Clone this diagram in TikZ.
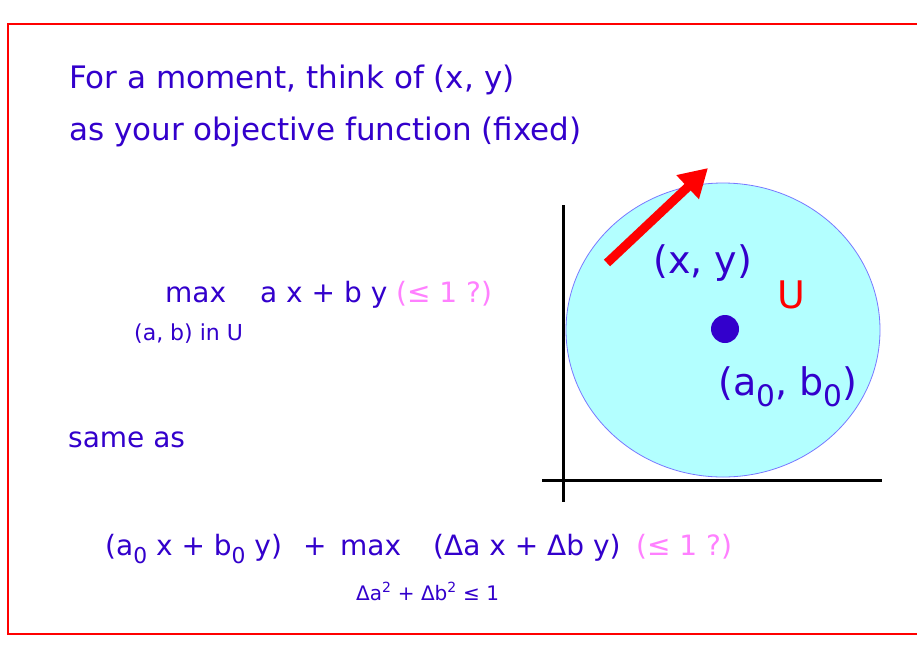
\documentclass[tikz,border=0pt]{standalone}
\usepackage{fontspec}
\usepackage{graphicx}
\setmainfont{DejaVu Sans}
\usetikzlibrary{arrows.meta,shapes.geometric}
\definecolor{txtblue}{RGB}{51,0,204}
\definecolor{txtpink}{RGB}{255,128,255}
\definecolor{ucyan}{RGB}{179,255,255}
\definecolor{ublue}{RGB}{120,120,255}
\newcommand{\sz}[1]{\fontsize{#1}{#1}\selectfont}
\newcommand{\sub}[1]{\raisebox{-0.3em}{\scalebox{0.78}{#1}}}
\begin{document}
\begin{tikzpicture}[x=1pt,y=-1pt,
  txt/.style={anchor=base west, inner sep=0pt, text=txtblue, font=\sz{28}},
  title/.style={txt, font=\sz{31}},
  pink/.style={txt, text=txtpink},
  small/.style={txt, font=\sz{22}},
  tiny/.style={txt, font=\sz{20}},
  big/.style={txt, font=\sz{38}},
  axis/.style={line width=3pt, black},
  bigarrow/.style={red, line width=9pt, -{Triangle[length=28pt,width=31pt]}}]
\useasboundingbox (0,0) rectangle (917,651);
\clip (0,0) rectangle (917,651);
\fill[white] (0,0) rectangle (917,651);
\draw[red, line width=2pt] (8,24) rectangle (940,634);
% text
\node[title] (l1) at (69,88) {For a moment, think of (x, y)};
\node[title] (l2) at (69,140) {as your objective function (fixed)};
\node[txt] (max1) at (165,302) {max};
\node[txt] (obj1) at (260,302) {a x + b y};
\node[pink] (q1) at (396,302) {(≤ 1 ?)};
\node[small] (sub1) at (134,340) {(a, b) in U};
\node[txt] (same) at (68,447) {same as};
\node[txt] (f0) at (105,555) {(a\sub{0} x + b\sub{0} y)};
\node[txt] (plus) at (303,555) {+};
\node[txt] (max2) at (340,555) {max};
\node[txt] (obj2) at (433,555) {(Δa x + Δb y)};
\node[pink] (q2) at (636,555) {(≤ 1 ?)};
\node[tiny] (sub2) at (356,600) {Δa\textsuperscript{2} + Δb\textsuperscript{2} ≤ 1};
% diagram
\node[draw=ublue, fill=ucyan, line width=0.8pt, ellipse, inner sep=0pt,
      minimum width=314pt, minimum height=294pt] (circ) at (723,330) {};
\draw[axis] (563,205) coordinate (ytop) -- (563,502) coordinate (ybot);
\draw[axis] (542,480) coordinate (xl) -- (882,480) coordinate (xr);
\coordinate (as) at (607,263);
\coordinate (at) at (708,168);
\draw[bigarrow] (as) -- (at);
\fill[txtblue] (725,329) circle[radius=14] coordinate (dot);
\node[big] (xy) at (653,273) {(x, y)};
\node[big, text=red] (U) at (777,308) {U};
\node[big] (ab) at (718,395) {(a\sub{0}, b\sub{0})};
\end{tikzpicture}
\end{document}
